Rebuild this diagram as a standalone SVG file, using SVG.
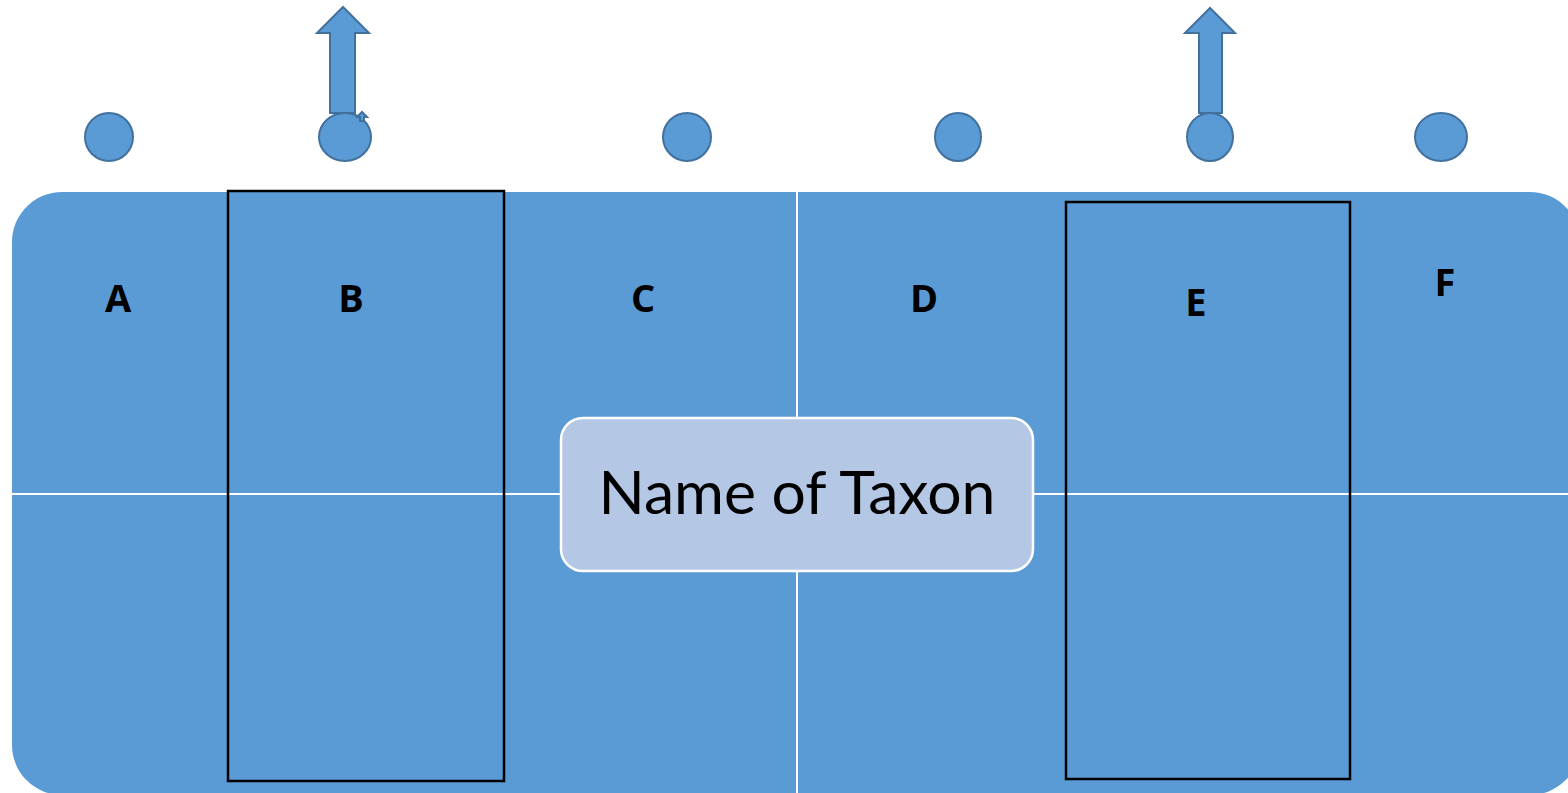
<svg xmlns="http://www.w3.org/2000/svg" width="1568" height="793" viewBox="0 0 1568 793">
<style>
.dot{fill:#5B9BD5;stroke:#41719C;stroke-width:2}
.arr{fill:#5B9BD5;stroke:#41719C;stroke-width:2;stroke-linejoin:miter}
.grid{stroke:#fff;stroke-width:2;fill:none}
.sel{fill:none;stroke:#000;stroke-width:2.5}
.lbl{font-family:"Open Sans","Liberation Sans",sans-serif;font-weight:bold;font-size:38px;fill:#000;text-anchor:middle}
</style>
<rect width="1568" height="793" fill="#fff"/>
<g id="background">
<rect x="12" y="192" width="1568" height="603" rx="50" ry="50" fill="#5B9BD5"/>
<line class="grid" x1="797" y1="192" x2="797" y2="793"/>
<line class="grid" x1="12" y1="494" x2="1568" y2="494"/>
</g>
<g id="selections">
<rect class="sel" x="228" y="191" width="276" height="590"/>
<rect class="sel" x="1066" y="202" width="284" height="577"/>
</g>
<g id="labels">
<text class="lbl" x="118" y="312">A</text>
<text class="lbl" x="351" y="312">B</text>
<text class="lbl" x="643" y="312">C</text>
<text class="lbl" x="924" y="312">D</text>
<text class="lbl" x="1196" y="316">E</text>
<text class="lbl" x="1445" y="296">F</text>
</g>
<g id="dots">
<ellipse class="dot" cx="109" cy="137" rx="24" ry="24"/>
<ellipse class="dot" cx="345" cy="137" rx="26" ry="24"/>
<ellipse class="dot" cx="687" cy="137" rx="24" ry="24"/>
<ellipse class="dot" cx="958" cy="137" rx="23" ry="24"/>
<ellipse class="dot" cx="1210" cy="137" rx="23" ry="24"/>
<ellipse class="dot" cx="1441" cy="137" rx="26" ry="24"/>
</g>
<g id="arrows">
<path class="arr" d="M330,113 L330,33 L317,33 L343,7 L369,33 L355,33 L355,113 Z"/>
<path class="arr" d="M360,121 L360,117 L357,117 L362,112 L367,117 L364,117 L364,121 Z" stroke-width="1.5"/>
<path class="arr" d="M1199,113 L1199,33 L1185,33 L1210,8 L1235,33 L1222,33 L1222,113 Z"/>
</g>
<g id="taxon">
<rect x="561" y="418" width="472" height="153" rx="22" ry="22" fill="#B4C8E6" stroke="#fff" stroke-width="2.5"/>
<text x="797" y="514" font-family="Lato,'Open Sans',sans-serif" font-size="60" fill="#000" text-anchor="middle" textLength="397" lengthAdjust="spacingAndGlyphs">Name of Taxon</text>
</g>
</svg>
